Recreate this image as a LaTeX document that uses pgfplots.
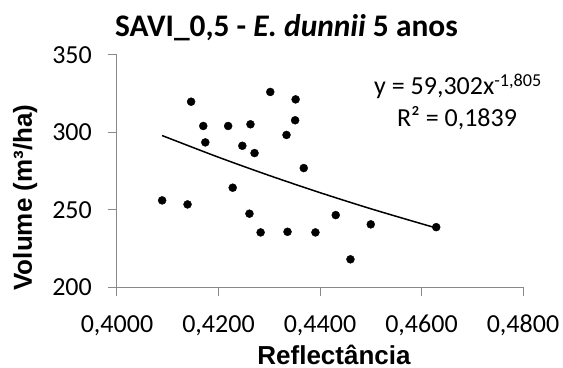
\documentclass[border=0pt]{standalone}
\usepackage{fontspec}
\setmainfont{Carlito}
\newfontfamily\arialfont{Liberation Sans}
\usepackage{pgfplots}
\pgfplotsset{compat=1.18}

\definecolor{axisgray}{HTML}{898989}

\begin{document}
\begin{tikzpicture}
\begin{axis}[
  name=ax,
  scale only axis,
  width=406bp, height=232bp,
  xmin=0.40, xmax=0.48,
  ymin=200, ymax=350,
  xtick={0.40,0.42,0.44,0.46,0.48},
  ytick={200,250,300,350},
  axis x line=bottom, axis y line=left,
  axis line style={axisgray, line width=1bp, -},
  tick align=outside,
  major tick length=9bp,
  tick style={axisgray, line width=1bp},
  /pgf/number format/assume math mode=true,
  x tick label style={/pgf/number format/fixed, /pgf/number format/fixed zerofill,
    /pgf/number format/precision=4, /pgf/number format/use comma,
    /pgf/number format/1000 sep={}, yshift=-19bp},
  y tick label style={/pgf/number format/fixed, /pgf/number format/1000 sep={}, xshift=-16bp},
  tick label style={font=\fontsize{26bp}{30bp}\selectfont, inner sep=0pt, text=black},
  clip=false,
]
% measured stand volumes against SAVI reflectance
\addplot[only marks, mark=*, mark size=4bp, black] coordinates {
  (0.4089,256.0) (0.4139,253.4) (0.4146,319.8) (0.4170,304.1)
  (0.4174,293.5) (0.4219,304.1) (0.4228,264.2) (0.4247,291.3)
  (0.4263,305.2) (0.4261,247.4) (0.4271,286.6) (0.4283,235.3)
  (0.4302,326.1) (0.4334,298.3) (0.4336,235.7) (0.4352,321.3)
  (0.4351,307.8) (0.4368,276.9) (0.4391,235.3) (0.4431,246.5)
  (0.4500,240.5) (0.4460,217.9) (0.4629,238.7)
};
% power trend line y = 59.302 x^(-1.805), tabulated
\addplot[black, line width=1.5bp, smooth] coordinates {
  (0.4089,297.9) (0.4100,296.5) (0.4200,283.9) (0.4300,272.1)
  (0.4400,261.0) (0.4500,250.6) (0.4600,240.9) (0.4629,238.2)
};
\end{axis}
% title, axis labels and trend-line equation
\node[anchor=base, font=\fontsize{31.4bp}{35bp}\selectfont\bfseries]
  at ([shift={(169.5bp,250bp)}]ax.south west) {SAVI\_0,5 - \textit{E. dunnii} 5 anos};
\node[anchor=base, rotate=90, inner sep=0pt, font=\arialfont\fontsize{26bp}{30bp}\selectfont\bfseries]
  at ([shift={(-85bp,89.5bp)}]ax.south west) {Volume (m³/ha)};
\node[anchor=base, inner sep=0pt, font=\arialfont\fontsize{26bp}{30bp}\selectfont\bfseries]
  at ([shift={(217bp,-77bp)}]ax.south west) {Reflectância};
\node[anchor=base, inner sep=0pt, font=\fontsize{26bp}{30bp}\selectfont]
  at ([shift={(341bp,192bp)}]ax.south west) {y = 59,302x\textsuperscript{-1,805}};
\node[anchor=base, inner sep=0pt, font=\fontsize{26bp}{30bp}\selectfont]
  at ([shift={(340bp,160bp)}]ax.south west) {R² = 0,1839};
\pgfresetboundingbox
\path[use as bounding box] ([shift={(-117bp,-81bp)}]ax.south west) rectangle ([shift={(40bp,55bp)}]ax.north east);
\end{tikzpicture}
\end{document}
